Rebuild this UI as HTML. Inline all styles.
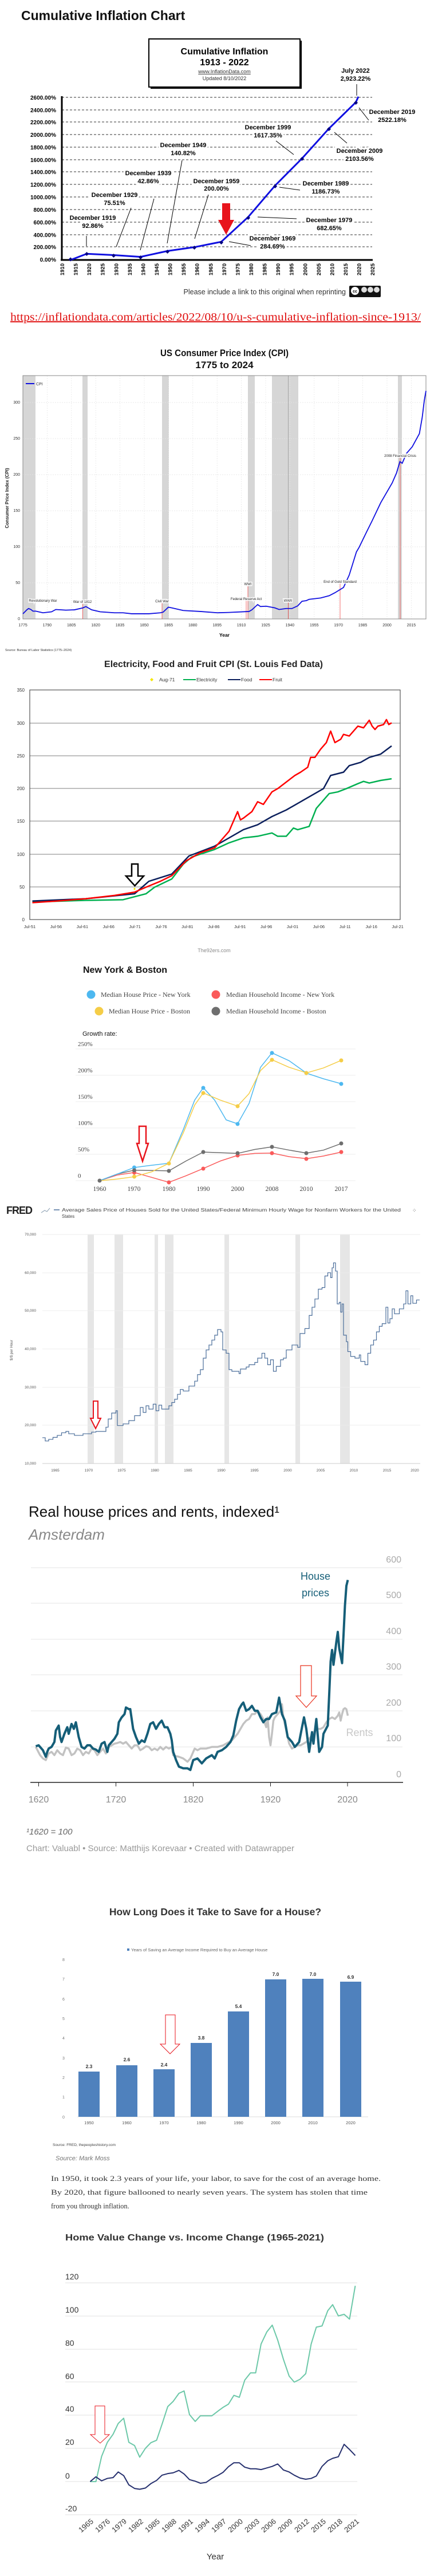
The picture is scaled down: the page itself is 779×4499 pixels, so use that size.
<!DOCTYPE html>
<html><head><meta charset="utf-8">
<style>
html,body{margin:0;padding:0;background:#fff;}
svg{display:block;}
text{font-family:"Liberation Sans",Arial,sans-serif;}
.nss{vector-effect:non-scaling-stroke;fill:none;}
</style></head>
<body>
<svg width="779" height="4499" viewBox="0 0 779 4499" xmlns="http://www.w3.org/2000/svg">
<rect width="779" height="4499" fill="#fff"/>

<!-- ============ CUMULATIVE INFLATION ============ -->
<text x="37" y="35" font-size="23" font-weight="bold" fill="#111">Cumulative Inflation Chart</text>
<rect x="263" y="71" width="264" height="84" fill="#000"/>
<rect x="260" y="68" width="264" height="84" fill="#fff" stroke="#000" stroke-width="2"/>
<text x="392" y="95" font-size="16" font-weight="bold" text-anchor="middle">Cumulative Inflation</text>
<text x="392" y="114" font-size="16" font-weight="bold" text-anchor="middle">1913 - 2022</text>
<text x="392" y="128" font-size="9" text-anchor="middle" fill="#333" text-decoration="underline">www.InflationData.com</text>
<text x="392" y="140" font-size="9" text-anchor="middle" fill="#333">Updated   8/10/2022</text>
<g stroke="#333" stroke-width="1" stroke-dasharray="4,3">
<line x1="108" y1="170" x2="650" y2="170"/><line x1="108" y1="192" x2="650" y2="192"/>
<line x1="108" y1="213" x2="650" y2="213"/><line x1="108" y1="235" x2="650" y2="235"/>
<line x1="108" y1="257" x2="650" y2="257"/><line x1="108" y1="279" x2="650" y2="279"/>
<line x1="108" y1="300" x2="650" y2="300"/><line x1="108" y1="322" x2="650" y2="322"/>
<line x1="108" y1="344" x2="650" y2="344"/><line x1="108" y1="366" x2="650" y2="366"/>
<line x1="108" y1="388" x2="650" y2="388"/><line x1="108" y1="410" x2="650" y2="410"/>
<line x1="108" y1="431" x2="650" y2="431"/>
</g>
<line x1="108" y1="168" x2="108" y2="455" stroke="#000" stroke-width="3"/>
<line x1="106" y1="454" x2="651" y2="454" stroke="#000" stroke-width="3"/>
<g font-size="10" font-weight="bold" text-anchor="end">
<text x="98" y="174">2600.00%</text><text x="98" y="196">2400.00%</text><text x="98" y="217">2200.00%</text>
<text x="98" y="239">2000.00%</text><text x="98" y="261">1800.00%</text><text x="98" y="283">1600.00%</text>
<text x="98" y="304">1400.00%</text><text x="98" y="326">1200.00%</text><text x="98" y="348">1000.00%</text>
<text x="98" y="370">800.00%</text><text x="98" y="392">600.00%</text><text x="98" y="414">400.00%</text>
<text x="98" y="435">200.00%</text><text x="98" y="457">0.00%</text>
</g>
<g font-size="9.5" font-weight="bold" text-anchor="end">
<text transform="translate(112,460) rotate(-90)">1910</text><text transform="translate(135.6,460) rotate(-90)">1915</text>
<text transform="translate(159.1,460) rotate(-90)">1920</text><text transform="translate(182.7,460) rotate(-90)">1925</text>
<text transform="translate(206.3,460) rotate(-90)">1930</text><text transform="translate(229.9,460) rotate(-90)">1935</text>
<text transform="translate(253.4,460) rotate(-90)">1940</text><text transform="translate(277,460) rotate(-90)">1945</text>
<text transform="translate(300.6,460) rotate(-90)">1950</text><text transform="translate(324.1,460) rotate(-90)">1955</text>
<text transform="translate(347.7,460) rotate(-90)">1960</text><text transform="translate(371.3,460) rotate(-90)">1965</text>
<text transform="translate(394.9,460) rotate(-90)">1970</text><text transform="translate(418.4,460) rotate(-90)">1975</text>
<text transform="translate(442,460) rotate(-90)">1980</text><text transform="translate(465.6,460) rotate(-90)">1985</text>
<text transform="translate(489.1,460) rotate(-90)">1990</text><text transform="translate(512.7,460) rotate(-90)">1995</text>
<text transform="translate(536.3,460) rotate(-90)">2000</text><text transform="translate(559.9,460) rotate(-90)">2005</text>
<text transform="translate(583.4,460) rotate(-90)">2010</text><text transform="translate(607,460) rotate(-90)">2015</text>
<text transform="translate(630.6,460) rotate(-90)">2020</text><text transform="translate(654.1,460) rotate(-90)">2025</text>
</g>
<g transform="scale(0.5,0.4464)">
<polyline class="nss" stroke="#1010e0" stroke-width="3" points="247,1017 303,993 397,998 491,1005 585,982 679,967 773,946 867,849 961,726 1055,620 1149,503 1243,400 1252,378"/>
</g>
<g fill="#000080">
<rect x="120" y="451" width="5" height="5" transform="rotate(45 123.5 454)"/>
<rect x="149" y="441" width="5" height="5" transform="rotate(45 151.5 443.5)"/>
<rect x="196" y="444" width="5" height="5" transform="rotate(45 198.5 446.5)"/>
<rect x="243" y="447" width="5" height="5" transform="rotate(45 245.5 449.5)"/>
<rect x="290" y="437" width="5" height="5" transform="rotate(45 292.5 439.5)"/>
<rect x="337" y="430" width="5" height="5" transform="rotate(45 339.5 432.5)"/>
<rect x="384" y="421" width="5" height="5" transform="rotate(45 386.5 423.5)"/>
<rect x="431" y="378" width="5" height="5" transform="rotate(45 433.5 380.5)"/>
<rect x="478" y="323" width="5" height="5" transform="rotate(45 480.5 325.5)"/>
<rect x="525" y="275" width="5" height="5" transform="rotate(45 527.5 277.5)"/>
<rect x="572" y="223" width="5" height="5" transform="rotate(45 574.5 225.5)"/>
<rect x="619" y="177" width="5" height="5" transform="rotate(45 621.5 179.5)"/>
</g>
<g stroke="#000" stroke-width="1">
<line x1="151" y1="412" x2="151" y2="430"/><line x1="229" y1="363" x2="203" y2="431"/>
<line x1="269" y1="347" x2="245" y2="437"/><line x1="318" y1="280" x2="292" y2="425"/>
<line x1="364" y1="340" x2="340" y2="417"/><line x1="438" y1="429" x2="400" y2="422"/>
<line x1="518" y1="382" x2="450" y2="379"/><line x1="524" y1="332" x2="488" y2="327"/>
<line x1="482" y1="246" x2="513" y2="270"/><line x1="606" y1="250" x2="584" y2="231"/>
<line x1="644" y1="210" x2="627" y2="188"/><line x1="623" y1="147" x2="623" y2="167"/>
</g>
<g font-size="11" font-weight="bold" text-anchor="middle" stroke="#fff" stroke-width="7" paint-order="stroke" fill="#000">
<text x="162" y="384">December 1919</text><text x="162" y="398">92.86%</text>
<text x="200" y="344">December 1929</text><text x="200" y="358">75.51%</text>
<text x="259" y="306">December 1939</text><text x="259" y="320">42.86%</text>
<text x="320" y="257">December 1949</text><text x="320" y="271">140.82%</text>
<text x="378" y="320">December 1959</text><text x="378" y="333">200.00%</text>
<text x="476" y="420">December 1969</text><text x="476" y="434">284.69%</text>
<text x="575" y="388">December 1979</text><text x="575" y="402">682.65%</text>
<text x="569" y="324">December 1989</text><text x="569" y="338">1186.73%</text>
<text x="468" y="226">December 1999</text><text x="468" y="240">1617.35%</text>
<text x="628" y="267">December 2009</text><text x="628" y="281">2103.56%</text>
<text x="685" y="199">December 2019</text><text x="685" y="213">2522.18%</text>
<text x="621" y="127">July  2022</text><text x="621" y="141">2,923.22%</text>
</g>
<polygon points="388,355 402,355 402,384 409,384 395,410 381,384 388,384" fill="#e8141c"/>
<text x="604" y="514" font-size="12.5" text-anchor="end" fill="#333">Please include a link to this original when reprinting</text>
<rect x="610" y="499" width="55" height="20" rx="2" fill="#111"/>
<circle cx="620" cy="508" r="7" fill="#fff"/><text x="620" y="511" font-size="7" font-weight="bold" text-anchor="middle">cc</text>
<circle cx="636" cy="506" r="5" fill="#ddd"/><circle cx="647" cy="506" r="5" fill="#ddd"/><circle cx="658" cy="506" r="5" fill="#ddd"/>
<text x="18" y="560" font-size="19.5" fill="#e01010" font-family="Liberation Serif,serif" style="font-family:'Liberation Serif',serif" text-decoration="underline" textLength="717" lengthAdjust="spacingAndGlyphs">https://inflationdata.com/articles/2022/08/10/u-s-cumulative-inflation-since-1913/</text>

<!-- ============ US CPI ============ -->
<text x="392" y="622" font-size="17" font-weight="bold" text-anchor="middle" fill="#111" textLength="224" lengthAdjust="spacingAndGlyphs">US Consumer Price Index (CPI)</text>
<text x="392" y="643" font-size="17" font-weight="bold" text-anchor="middle" fill="#111">1775 to 2024</text>
<g fill="#d6d6d6">
<rect x="40" y="656" width="22" height="425"/><rect x="144" y="656" width="9" height="425"/>
<rect x="283" y="656" width="12" height="425"/><rect x="433" y="656" width="12" height="425"/>
<rect x="475" y="656" width="46" height="425"/><rect x="695" y="656" width="7" height="425"/>
</g>
<g stroke="#e4e4e4" stroke-width="0.7" stroke-dasharray="2,2">
<line x1="40" y1="703" x2="744" y2="703"/><line x1="40" y1="766" x2="744" y2="766"/>
<line x1="40" y1="829" x2="744" y2="829"/><line x1="40" y1="892" x2="744" y2="892"/>
<line x1="40" y1="955" x2="744" y2="955"/><line x1="40" y1="1018" x2="744" y2="1018"/>
<line x1="82.4" y1="656" x2="82.4" y2="1081"/><line x1="124.8" y1="656" x2="124.8" y2="1081"/>
<line x1="167.2" y1="656" x2="167.2" y2="1081"/><line x1="209.6" y1="656" x2="209.6" y2="1081"/>
<line x1="252" y1="656" x2="252" y2="1081"/><line x1="294.4" y1="656" x2="294.4" y2="1081"/>
<line x1="336.8" y1="656" x2="336.8" y2="1081"/><line x1="379.2" y1="656" x2="379.2" y2="1081"/>
<line x1="421.6" y1="656" x2="421.6" y2="1081"/><line x1="464" y1="656" x2="464" y2="1081"/>
<line x1="506.4" y1="656" x2="506.4" y2="1081"/><line x1="548.8" y1="656" x2="548.8" y2="1081"/>
<line x1="591.2" y1="656" x2="591.2" y2="1081"/><line x1="633.6" y1="656" x2="633.6" y2="1081"/>
<line x1="676" y1="656" x2="676" y2="1081"/><line x1="718.4" y1="656" x2="718.4" y2="1081"/>
</g>
<line x1="503.5" y1="656" x2="503.5" y2="1081" stroke="#999" stroke-width="0.8"/>
<rect x="40" y="656" width="704" height="425" fill="none" stroke="#888" stroke-width="1"/>
<line x1="45" y1="670" x2="60" y2="670" stroke="#1010e0" stroke-width="2"/>
<text x="63" y="673" font-size="7" fill="#333">CPI</text>
<g stroke="#e33" stroke-width="0.7">
<line x1="144.5" y1="1054" x2="144.5" y2="1081"/><line x1="283" y1="1053" x2="283" y2="1081"/>
<line x1="430" y1="1049" x2="430" y2="1081"/><line x1="433" y1="1024" x2="433" y2="1081"/>
<line x1="503.5" y1="1052" x2="503.5" y2="1081"/><line x1="594" y1="1019" x2="594" y2="1081"/>
<line x1="699" y1="799" x2="699" y2="1081"/>
</g>
<g transform="translate(0,700) scale(0.5,0.574)">
<polyline class="nss" stroke="#1010e0" stroke-width="1.8" points="80,648 95,635 100,632 108,635 115,640 125,640 150,645 180,642 195,635 230,637 260,636 290,630 300,626 320,636 350,642 400,645 430,645 460,648 520,648 560,645 570,643 588,628 600,630 640,638 700,641 760,645 800,644 870,641 880,636 900,620 910,626 930,625 960,630 975,635 1000,632 1020,632 1040,624 1055,610 1070,608 1080,604 1120,600 1150,593 1170,584 1200,568 1220,530 1245,460 1255,445 1280,400 1300,365 1330,310 1350,280 1370,250 1385,220 1397,185 1405,190 1420,160 1440,140 1465,100 1475,50 1482,0 1488,-30"/>
</g>
<g font-size="6" text-anchor="middle" fill="#222" stroke="#fff" stroke-width="3" paint-order="stroke">
<text x="75" y="1051">Revolutionary War</text><text x="144" y="1053">War of 1812</text>
<text x="283" y="1052">Civil War</text><text x="430" y="1048">Federal Reserve Act</text>
<text x="433" y="1022">WWI</text><text x="503" y="1051">WWII</text>
<text x="594" y="1018">End of Gold Standard</text><text x="699" y="798">2008 Financial Crisis</text>
</g>
<g font-size="7" text-anchor="end" fill="#333">
<text x="35" y="705">300</text><text x="35" y="768">250</text><text x="35" y="831">200</text>
<text x="35" y="894">150</text><text x="35" y="957">100</text><text x="35" y="1020">50</text><text x="35" y="1083">0</text>
</g>
<g font-size="7" text-anchor="middle" fill="#333">
<text x="40" y="1094">1775</text><text x="82.4" y="1094">1790</text><text x="124.8" y="1094">1805</text>
<text x="167.2" y="1094">1820</text><text x="209.6" y="1094">1835</text><text x="252" y="1094">1850</text>
<text x="294.4" y="1094">1865</text><text x="336.8" y="1094">1880</text><text x="379.2" y="1094">1895</text>
<text x="421.6" y="1094">1910</text><text x="464" y="1094">1925</text><text x="506.4" y="1094">1940</text>
<text x="548.8" y="1094">1955</text><text x="591.2" y="1094">1970</text><text x="633.6" y="1094">1985</text>
<text x="676" y="1094">2000</text><text x="718.4" y="1094">2015</text>
</g>
<text x="392" y="1112" font-size="8.5" font-weight="bold" text-anchor="middle">Year</text>
<text transform="translate(15,870) rotate(-90)" font-size="8" font-weight="bold" text-anchor="middle" fill="#222">Consumer Price Index (CPI)</text>
<text x="9" y="1137" font-size="5.5" fill="#333">Source: Bureau of Labor Statistics (1775–2024)</text>

<!-- ============ ELECTRICITY FOOD FRUIT ============ -->
<text x="373" y="1165" font-size="16" font-weight="bold" text-anchor="middle" fill="#222">Electricity, Food and Fruit CPI (St. Louis Fed Data)</text>
<polygon points="265,1184 268,1187 265,1190 262,1187" fill="#f5e700"/>
<text x="278" y="1190" font-size="8.5" fill="#333">Aug-71</text>
<line x1="320" y1="1187" x2="342" y2="1187" stroke="#00b050" stroke-width="2"/><text x="343" y="1190" font-size="8.5" fill="#333">Electricity</text>
<line x1="398" y1="1187" x2="420" y2="1187" stroke="#0b1f5c" stroke-width="2"/><text x="421" y="1190" font-size="8.5" fill="#333">Food</text>
<line x1="453" y1="1187" x2="475" y2="1187" stroke="#ff0000" stroke-width="2"/><text x="476" y="1190" font-size="8.5" fill="#333">Fruit</text>
<g stroke="#999" stroke-width="1.2">
<line x1="52" y1="1263" x2="699" y2="1263"/><line x1="52" y1="1320" x2="699" y2="1320"/>
<line x1="52" y1="1377" x2="699" y2="1377"/><line x1="52" y1="1434" x2="699" y2="1434"/>
<line x1="52" y1="1492" x2="699" y2="1492"/><line x1="52" y1="1549" x2="699" y2="1549"/>
</g>
<rect x="52" y="1205" width="647" height="401" fill="none" stroke="#333" stroke-width="1"/>
<g font-size="8" text-anchor="end" fill="#333">
<text x="43" y="1208">350</text><text x="43" y="1266">300</text><text x="43" y="1323">250</text><text x="43" y="1380">200</text>
<text x="43" y="1437">150</text><text x="43" y="1495">100</text><text x="43" y="1552">50</text><text x="43" y="1609">0</text>
</g>
<g font-size="7.5" text-anchor="middle" fill="#333">
<text x="52" y="1621">Jul-51</text><text x="97.9" y="1621">Jul-56</text><text x="143.8" y="1621">Jul-61</text>
<text x="189.7" y="1621">Jul-66</text><text x="235.6" y="1621">Jul-71</text><text x="281.5" y="1621">Jul-76</text>
<text x="327.4" y="1621">Jul-81</text><text x="373.3" y="1621">Jul-86</text><text x="419.2" y="1621">Jul-91</text>
<text x="465.1" y="1621">Jul-96</text><text x="511" y="1621">Jul-01</text><text x="556.9" y="1621">Jul-06</text>
<text x="602.8" y="1621">Jul-11</text><text x="648.7" y="1621">Jul-16</text><text x="694.6" y="1621">Jul-21</text>
</g>
<g transform="translate(0,700) scale(0.5,0.574)">
<polyline class="nss" stroke="#00b050" stroke-width="2.5" stroke-linejoin="round" points="113,1525 300,1520 430,1518 510,1500 540,1480 600,1455 640,1410 670,1388 750,1365 800,1345 850,1330 900,1325 950,1315 970,1325 1000,1325 1025,1300 1040,1305 1080,1295 1105,1240 1150,1195 1180,1190 1210,1180 1250,1165 1270,1158 1290,1163 1330,1155 1368,1150"/>
<polyline class="nss" stroke="#0b1f5c" stroke-width="2.5" stroke-linejoin="round" points="113,1522 300,1515 470,1500 520,1462 600,1440 660,1385 750,1355 800,1330 850,1305 900,1290 950,1265 1000,1245 1050,1220 1100,1195 1130,1180 1155,1140 1200,1130 1220,1110 1260,1100 1290,1085 1330,1075 1368,1050"/>
<polyline class="nss" stroke="#ff0000" stroke-width="2.5" stroke-linejoin="round" points="113,1527 200,1522 300,1515 400,1505 470,1495 510,1480 560,1462 600,1445 650,1400 700,1375 750,1360 800,1310 815,1280 830,1250 840,1275 850,1270 880,1250 900,1220 920,1228 950,1190 970,1180 1000,1160 1030,1140 1050,1130 1075,1115 1085,1085 1100,1085 1120,1060 1140,1040 1155,1005 1170,1040 1190,1030 1200,1015 1220,1020 1250,990 1270,995 1290,972 1300,990 1310,1000 1320,990 1340,985 1350,970 1358,985 1368,980"/>
</g>
<polygon points="470,1481 474,1485 470,1489 466,1485" fill="#f5e700" transform="translate(0,700) scale(0.5,0.574)"/>
<polygon points="230,1509 241,1509 241,1530 251,1530 235.5,1547 220,1530 230,1530" fill="#fff" stroke="#000" stroke-width="2.5"/>
<text x="374" y="1663" font-size="9" text-anchor="middle" fill="#888">The92ers.com</text>

<!-- ============ NEW YORK & BOSTON ============ -->
<text x="145" y="1699" font-size="16" font-weight="bold" fill="#111">New York &amp; Boston</text>
<g font-size="12" fill="#444" style="font-family:'Liberation Serif',serif">
<circle cx="159" cy="1737" r="7.5" fill="#4db8f0"/><text x="176" y="1741" style="font-family:'Liberation Serif',serif">Median House Price - New York</text>
<circle cx="377" cy="1737" r="7.5" fill="#fa5a5a"/><text x="395" y="1741" style="font-family:'Liberation Serif',serif">Median Household Income - New York</text>
<circle cx="173" cy="1766" r="7.5" fill="#f5cd47"/><text x="190" y="1770" style="font-family:'Liberation Serif',serif">Median House Price - Boston</text>
<circle cx="377" cy="1766" r="7.5" fill="#6e6e6e"/><text x="395" y="1770" style="font-family:'Liberation Serif',serif">Median Household Income - Boston</text>
</g>
<text x="144" y="1809" font-size="11" fill="#111">Growth rate:</text>
<g stroke="#eee" stroke-width="1">
<line x1="132" y1="1832" x2="621" y2="1832"/><line x1="132" y1="1878" x2="621" y2="1878"/>
<line x1="132" y1="1924" x2="621" y2="1924"/><line x1="132" y1="1970" x2="621" y2="1970"/>
<line x1="132" y1="2016" x2="621" y2="2016"/><line x1="132" y1="2062" x2="621" y2="2062"/>
</g>
<g font-size="11" fill="#444" style="font-family:'Liberation Serif',serif">
<text x="136" y="1827" style="font-family:'Liberation Serif',serif">250%</text><text x="136" y="1873" style="font-family:'Liberation Serif',serif">200%</text>
<text x="136" y="1919" style="font-family:'Liberation Serif',serif">150%</text><text x="136" y="1965" style="font-family:'Liberation Serif',serif">100%</text>
<text x="136" y="2011" style="font-family:'Liberation Serif',serif">50%</text><text x="136" y="2057" style="font-family:'Liberation Serif',serif">0</text>
</g>
<g font-size="11.5" fill="#444" text-anchor="middle">
<text x="174" y="2080" style="font-family:'Liberation Serif',serif">1960</text><text x="234" y="2080" style="font-family:'Liberation Serif',serif">1970</text>
<text x="295" y="2080" style="font-family:'Liberation Serif',serif">1980</text><text x="355" y="2080" style="font-family:'Liberation Serif',serif">1990</text>
<text x="415" y="2080" style="font-family:'Liberation Serif',serif">2000</text><text x="475" y="2080" style="font-family:'Liberation Serif',serif">2008</text>
<text x="535" y="2080" style="font-family:'Liberation Serif',serif">2010</text><text x="596" y="2080" style="font-family:'Liberation Serif',serif">2017</text>
</g>
<g transform="translate(0,1600) scale(0.5,0.574)">
<polyline class="nss" stroke="#fa5a5a" stroke-width="1.5" stroke-linejoin="round" points="348,805 409,788 469,780 530,795 590,810 650,790 710,768 770,745 830,728 890,722 950,721 1010,732 1071,738 1130,730 1192,718"/>
<polyline class="nss" stroke="#6e6e6e" stroke-width="1.5" stroke-linejoin="round" points="348,805 409,785 469,773 530,774 590,775 650,745 710,718 770,720 830,722 890,710 950,702 1010,712 1071,721 1130,712 1192,692"/>
<polyline class="nss" stroke="#4db8f0" stroke-width="1.5" stroke-linejoin="round" points="348,805 409,785 469,765 530,758 590,752 640,650 680,560 710,522 750,560 790,620 830,632 870,570 910,460 950,416 1010,440 1071,478 1130,495 1192,510"/>
<polyline class="nss" stroke="#f5cd47" stroke-width="1.5" stroke-linejoin="round" points="348,805 409,800 469,793 530,778 590,752 640,660 680,575 710,538 770,560 830,578 870,540 910,470 950,437 1010,460 1071,477 1130,462 1192,439"/>
</g>
<g>
<circle cx="174" cy="2062" r="3.5" fill="#6e6e6e"/>
<circle cx="234.5" cy="2039" r="3.5" fill="#4db8f0"/><circle cx="234.5" cy="2055" r="3.5" fill="#f5cd47"/><circle cx="234.5" cy="2048" r="3.5" fill="#fa5a5a"/><circle cx="234.5" cy="2044" r="3.5" fill="#6e6e6e"/>
<circle cx="295" cy="2032" r="3.5" fill="#f5cd47"/><circle cx="295" cy="2065" r="3.5" fill="#fa5a5a"/><circle cx="295" cy="2045" r="3.5" fill="#6e6e6e"/>
<circle cx="355" cy="1900" r="3.5" fill="#4db8f0"/><circle cx="355" cy="1909" r="3.5" fill="#f5cd47"/><circle cx="355" cy="2041" r="3.5" fill="#fa5a5a"/><circle cx="355" cy="2012" r="3.5" fill="#6e6e6e"/>
<circle cx="415" cy="1963" r="3.5" fill="#4db8f0"/><circle cx="415" cy="1932" r="3.5" fill="#f5cd47"/><circle cx="415" cy="2018" r="3.5" fill="#fa5a5a"/><circle cx="415" cy="2014" r="3.5" fill="#6e6e6e"/>
<circle cx="475" cy="1839" r="3.5" fill="#4db8f0"/><circle cx="475" cy="1851" r="3.5" fill="#f5cd47"/><circle cx="475" cy="2014" r="3.5" fill="#fa5a5a"/><circle cx="475" cy="2003" r="3.5" fill="#6e6e6e"/>
<circle cx="535" cy="1874" r="3.5" fill="#4db8f0"/><circle cx="535" cy="1874" r="3.5" fill="#f5cd47"/><circle cx="535" cy="2024" r="3.5" fill="#fa5a5a"/><circle cx="535" cy="2014" r="3.5" fill="#6e6e6e"/>
<circle cx="596" cy="1893" r="3.5" fill="#4db8f0"/><circle cx="596" cy="1852" r="3.5" fill="#f5cd47"/><circle cx="596" cy="2012" r="3.5" fill="#fa5a5a"/><circle cx="596" cy="1997" r="3.5" fill="#6e6e6e"/>
</g>
<polygon points="243,1967 255,1967 255,1997 259,1997 249,2028 239,1997 243,1997" fill="#fff" stroke="#e8141c" stroke-width="2.5"/>

<!-- ============ FRED ============ -->
<text x="11" y="2120" font-size="18" font-weight="bold" fill="#222" letter-spacing="-1">FRED</text>
<polyline points="72,2118 78,2114 82,2116 87,2110" fill="none" stroke="#9ab" stroke-width="1.2"/>
<line x1="94" y1="2113" x2="104" y2="2113" stroke="#4a6d9a" stroke-width="1.5"/>
<text x="108" y="2116" font-size="7.8" fill="#444" textLength="592" lengthAdjust="spacingAndGlyphs">Average Sales Price of Houses Sold for the United States/Federal Minimum Hourly Wage for Nonfarm Workers for the United</text>
<text x="108" y="2127" font-size="7.8" fill="#444">States</text>
<text x="720" y="2117" font-size="9" fill="#444">⁘</text>
<g fill="#e6e6e6">
<rect x="153" y="2156" width="11" height="400"/><rect x="200" y="2156" width="15" height="400"/>
<rect x="270" y="2156" width="6" height="400"/><rect x="288" y="2156" width="15" height="400"/>
<rect x="392" y="2156" width="8" height="400"/><rect x="516" y="2156" width="8" height="400"/>
<rect x="594" y="2156" width="17" height="400"/>
</g>
<g stroke="#ececec" stroke-width="1">
<line x1="74" y1="2156" x2="734" y2="2156"/><line x1="74" y1="2223" x2="734" y2="2223"/>
<line x1="74" y1="2289" x2="734" y2="2289"/><line x1="74" y1="2356" x2="734" y2="2356"/>
<line x1="74" y1="2423" x2="734" y2="2423"/><line x1="74" y1="2489" x2="734" y2="2489"/>
</g>
<line x1="74" y1="2556" x2="734" y2="2556" stroke="#ccc" stroke-width="1"/>
<g font-size="6.5" fill="#555" text-anchor="end">
<text x="63" y="2158">70,000</text><text x="63" y="2225">60,000</text><text x="63" y="2291">50,000</text>
<text x="63" y="2358">40,000</text><text x="63" y="2425">30,000</text><text x="63" y="2491">20,000</text><text x="63" y="2558">10,000</text>
</g>
<text transform="translate(22,2358) rotate(-90)" font-size="6.5" fill="#555" text-anchor="middle">$/$ per Hour</text>
<g font-size="6.5" fill="#555" text-anchor="middle">
<text x="96.5" y="2561" dy="9">1965</text><text x="155" y="2570">1970</text><text x="212.5" y="2570">1975</text>
<text x="270.5" y="2570">1980</text><text x="328.5" y="2570">1985</text><text x="386.5" y="2570">1990</text>
<text x="444.5" y="2570">1995</text><text x="502.5" y="2570">2000</text><text x="560" y="2570">2005</text>
<text x="618" y="2570">2010</text><text x="676" y="2570">2015</text><text x="724.5" y="2570">2020</text>
</g>
<g transform="translate(0,1600) scale(0.5,0.574)">
<polyline class="nss" stroke="#4a6d9a" stroke-width="1.2" points="148,1587 158,1587 158,1597 170,1597 170,1592 185,1592 185,1586 200,1586 200,1580 215,1580 215,1572 230,1572 230,1568 240,1568 240,1575 260,1575 260,1580 290,1580 290,1575 320,1575 320,1570 335,1570 335,1568 370,1568 370,1555 378,1555 378,1530 390,1530 390,1512 405,1512 405,1505 410,1505 410,1550 430,1550 430,1545 450,1545 450,1535 470,1535 470,1520 490,1520 490,1495 500,1495 500,1510 510,1510 510,1490 520,1490 520,1500 535,1500 535,1485 545,1485 545,1505 555,1505 555,1488 565,1488 565,1500 590,1500 590,1490 600,1490 600,1480 610,1480 610,1470 620,1470 620,1455 630,1455 630,1440 640,1440 640,1445 660,1445 660,1430 680,1430 680,1415 690,1415 690,1395 700,1395 700,1380 710,1380 710,1345 720,1345 720,1320 730,1320 730,1305 740,1305 740,1290 750,1290 750,1275 760,1275 760,1258 772,1258 772,1265 778,1265 778,1320 790,1320 790,1330 800,1330 800,1380 810,1380 810,1385 835,1385 835,1392 840,1392 840,1378 860,1378 860,1372 870,1372 870,1365 890,1365 890,1358 900,1358 900,1345 915,1345 915,1330 925,1330 925,1345 935,1345 935,1365 945,1365 945,1350 955,1350 955,1385 965,1385 965,1370 980,1370 980,1350 990,1350 990,1345 1000,1345 1000,1320 1020,1320 1020,1305 1040,1305 1040,1312 1048,1312 1048,1270 1065,1270 1065,1255 1080,1255 1080,1215 1090,1215 1090,1190 1100,1190 1100,1165 1112,1165 1112,1135 1125,1135 1125,1130 1135,1130 1135,1095 1145,1095 1145,1085 1155,1085 1155,1100 1160,1100 1160,1070 1165,1070 1165,1055 1172,1055 1172,1080 1178,1080 1178,1180 1185,1180 1185,1175 1190,1175 1190,1205 1195,1205 1195,1180 1200,1180 1200,1275 1210,1275 1210,1295 1215,1295 1215,1325 1225,1325 1225,1340 1240,1340 1240,1345 1255,1345 1255,1335 1260,1335 1260,1355 1275,1355 1275,1365 1285,1365 1285,1330 1295,1330 1295,1305 1305,1305 1305,1290 1315,1290 1315,1265 1325,1265 1325,1248 1335,1248 1335,1240 1348,1240 1348,1190 1355,1190 1355,1238 1362,1238 1362,1225 1370,1225 1370,1195 1378,1195 1378,1210 1395,1210 1395,1195 1410,1195 1410,1180 1418,1180 1418,1140 1425,1140 1425,1180 1435,1180 1435,1155 1442,1155 1442,1178 1455,1178 1455,1168 1466,1168"/>
</g>
<polygon points="163,2447 171,2447 171,2477 176,2477 167,2495 158,2477 163,2477" fill="#fff" stroke="#e8141c" stroke-width="2"/>

<!-- ============ AMSTERDAM ============ -->
<text x="50" y="2649" font-size="26" fill="#111">Real house prices and rents, indexed¹</text>
<text x="50" y="2689" font-size="26" font-style="italic" fill="#888">Amsterdam</text>
<g stroke="#e4e4e4" stroke-width="1">
<line x1="54" y1="2738" x2="703" y2="2738"/><line x1="54" y1="2800" x2="703" y2="2800"/>
<line x1="54" y1="2863" x2="703" y2="2863"/><line x1="54" y1="2925" x2="703" y2="2925"/>
<line x1="54" y1="2988" x2="703" y2="2988"/><line x1="54" y1="3051" x2="703" y2="3051"/>
</g>
<g font-size="16" fill="#aaa" text-anchor="end">
<text x="701" y="2729">600</text><text x="701" y="2791">500</text><text x="701" y="2854">400</text>
<text x="701" y="2916">300</text><text x="701" y="2979">200</text><text x="701" y="3041">100</text><text x="701" y="3104">0</text>
</g>
<g transform="translate(0,2500) scale(0.5,0.574)">
<polyline class="nss" stroke="#c2c2c2" stroke-width="3.5" stroke-linejoin="round" points="125,960 140,985 150,995 160,1000 170,980 180,975 190,985 200,970 210,980 220,985 230,962 240,965 250,985 260,980 270,965 280,970 290,985 300,975 310,980 320,965 330,970 340,985 350,975 360,965 370,980 380,960 390,955 400,950 410,948 420,945 430,950 440,945 450,955 460,965 470,955 480,955 490,970 500,965 510,958 520,960 530,970 540,965 550,970 560,960 570,968 580,960 590,965 600,960 605,985 615,988 625,990 640,995 655,1005 665,995 670,985 680,965 690,970 700,965 720,965 740,960 760,960 780,955 800,945 810,940 820,930 830,920 840,905 850,890 860,880 870,875 880,860 890,860 900,850 910,860 920,875 930,900 935,870 940,930 945,955 950,920 955,880 960,870 970,860 980,850 985,830 990,870 1000,910 1010,950 1020,965 1030,960 1040,955 1050,955 1060,950 1070,945 1080,935 1090,925 1100,910 1110,905 1120,905 1130,900 1140,885 1150,875 1160,870 1170,875 1180,865 1185,855 1190,880 1195,860 1200,845 1205,842 1210,845 1215,865"/>
<polyline class="nss" stroke="#155e78" stroke-width="4" stroke-linejoin="round" points="125,958 135,955 140,960 150,970 160,990 165,975 170,965 180,960 190,945 195,910 205,895 210,930 215,945 225,920 235,900 240,920 250,890 258,905 265,885 275,930 285,960 295,965 305,955 315,955 325,965 335,968 345,975 355,950 365,945 375,975 380,955 390,945 400,935 410,920 415,885 425,870 435,860 440,840 450,845 455,845 465,905 475,930 485,950 495,940 505,945 515,920 525,890 535,885 545,905 555,890 565,880 575,900 585,900 595,920 600,940 605,975 615,1000 625,1020 640,1025 655,1025 665,1030 675,1000 690,995 705,1010 720,995 740,985 750,995 760,975 775,970 790,960 805,945 815,925 825,880 835,845 845,830 850,825 860,850 870,845 880,835 890,850 900,850 910,870 920,885 930,875 940,875 950,860 965,855 975,810 985,860 995,880 1005,930 1020,945 1030,960 1045,945 1055,900 1062,870 1070,905 1080,975 1090,915 1095,950 1105,875 1115,975 1125,960 1130,920 1145,895 1150,800 1155,700 1160,665 1165,710 1175,640 1180,610 1185,660 1195,705 1200,620 1205,530 1210,470 1215,452"/>
</g>
<line x1="53" y1="3113" x2="704" y2="3113" stroke="#222" stroke-width="1.5"/>
<g stroke="#222" stroke-width="1"><line x1="67.5" y1="3113" x2="67.5" y2="3120"/><line x1="202.5" y1="3113" x2="202.5" y2="3120"/><line x1="337.5" y1="3113" x2="337.5" y2="3120"/><line x1="472.5" y1="3113" x2="472.5" y2="3120"/><line x1="607" y1="3113" x2="607" y2="3120"/></g>
<g font-size="16" fill="#888" text-anchor="middle">
<text x="67.5" y="3148">1620</text><text x="202.5" y="3148">1720</text><text x="337.5" y="3148">1820</text><text x="472.5" y="3148">1920</text><text x="607" y="3148">2020</text>
</g>
<text x="551" y="2759" font-size="18" fill="#155e78" text-anchor="middle">House</text>
<text x="551" y="2788" font-size="18" fill="#155e78" text-anchor="middle">prices</text>
<text x="628" y="3032" font-size="18" fill="#c8c8c8" text-anchor="middle">Rents</text>
<polygon points="525,2909 544,2909 544,2962 553,2962 535,2982 517,2962 525,2962" fill="#fff" stroke="#e8301c" stroke-width="1.2"/>
<text x="46" y="3204" font-size="15" font-style="italic" fill="#666">¹1620 = 100</text>
<text x="46" y="3233" font-size="15" fill="#999">Chart: Valuabl • Source: Matthijs Korevaar • Created with Datawrapper</text>

<!-- ============ SAVE FOR A HOUSE ============ -->
<text x="376" y="3345" font-size="17.5" font-weight="bold" text-anchor="middle" fill="#333">How Long Does it Take to Save for a House?</text>
<rect x="222" y="3403" width="4" height="4" fill="#4f81bd"/>
<text x="229" y="3408" font-size="7.5" fill="#666">Years of Saving an Average Income Required to Buy an Average House</text>
<g font-size="7" fill="#777" text-anchor="middle">
<text x="111" y="3425">8</text><text x="111" y="3459">7</text><text x="111" y="3494">6</text><text x="111" y="3528">5</text>
<text x="111" y="3562">4</text><text x="111" y="3597">3</text><text x="111" y="3631">2</text><text x="111" y="3665">1</text><text x="111" y="3700">0</text>
</g>
<line x1="135" y1="3697" x2="643" y2="3697" stroke="#ddd" stroke-width="1"/>
<g fill="#4f81bd">
<rect x="137" y="3618" width="37" height="79"/><rect x="203" y="3607" width="37" height="90"/>
<rect x="268" y="3614" width="37" height="83"/><rect x="333" y="3568" width="37" height="129"/>
<rect x="398" y="3513" width="37" height="184"/><rect x="463" y="3457" width="37" height="240"/>
<rect x="528" y="3456" width="37" height="241"/><rect x="594" y="3461" width="37" height="236"/>
</g>
<g font-size="8.5" font-weight="bold" fill="#333" text-anchor="middle">
<text x="155.5" y="3612">2.3</text><text x="221.5" y="3600">2.6</text><text x="286.5" y="3609">2.4</text>
<text x="351.5" y="3562">3.8</text><text x="416.5" y="3507">5.4</text><text x="481.5" y="3451">7.0</text>
<text x="546.5" y="3451">7.0</text><text x="612.5" y="3456">6.9</text>
</g>
<g font-size="7.5" fill="#555" text-anchor="middle">
<text x="155.5" y="3710">1950</text><text x="221.5" y="3710">1960</text><text x="286.5" y="3710">1970</text>
<text x="351.5" y="3710">1980</text><text x="416.5" y="3710">1990</text><text x="481.5" y="3710">2000</text>
<text x="546.5" y="3710">2010</text><text x="612.5" y="3710">2020</text>
</g>
<polygon points="289,3519 306,3519 306,3570 314,3570 297,3587 280,3570 289,3570" fill="#fff" stroke="#e8141c" stroke-width="1"/>
<text x="92" y="3748" font-size="6.5" fill="#444">Source: FRED, thepeopleshistory.com</text>
<text x="97" y="3773" font-size="11" font-style="italic" fill="#777">Source: Mark Moss</text>
<g font-size="12.5" fill="#333">
<text x="89" y="3809" style="font-family:'Liberation Serif',serif" textLength="576" lengthAdjust="spacingAndGlyphs">In 1950, it took 2.3 years of your life, your labor, to save for the cost of an average home.</text>
<text x="89" y="3833" style="font-family:'Liberation Serif',serif" textLength="553" lengthAdjust="spacingAndGlyphs">By 2020, that figure ballooned to nearly seven years. The system has stolen that time</text>
<text x="89" y="3857" style="font-family:'Liberation Serif',serif">from you through inflation.</text>
</g>

<!-- ============ HOME VALUE VS INCOME ============ -->
<text x="114" y="3913" font-size="16" font-weight="bold" fill="#333" textLength="452" lengthAdjust="spacingAndGlyphs">Home Value Change vs. Income Change (1965-2021)</text>
<g stroke="#e2e2e2" stroke-width="1">
<line x1="114" y1="3987" x2="624" y2="3987"/><line x1="114" y1="4045" x2="624" y2="4045"/>
<line x1="114" y1="4103" x2="624" y2="4103"/><line x1="114" y1="4160" x2="624" y2="4160"/>
<line x1="114" y1="4218" x2="624" y2="4218"/><line x1="114" y1="4276" x2="624" y2="4276"/>
<line x1="114" y1="4334" x2="624" y2="4334"/><line x1="114" y1="4392" x2="624" y2="4392"/>
</g>
<g font-size="14" fill="#333">
<text x="114" y="3981">120</text><text x="114" y="4039">100</text><text x="114" y="4097">80</text><text x="114" y="4155">60</text>
<text x="114" y="4212">40</text><text x="114" y="4270">20</text><text x="114" y="4329">0</text><text x="114" y="4386">-20</text>
</g>
<g transform="translate(0,3400) scale(0.5,0.7008)">
<polyline class="nss" stroke="#6cc8a8" stroke-width="2" stroke-linejoin="round" points="315,1333 335,1333 355,1270 375,1235 395,1215 413,1188 432,1175 450,1235 470,1243 488,1272 508,1250 527,1236 547,1230 566,1190 586,1146 605,1133 625,1113 643,1107 662,1166 682,1183 700,1169 740,1169 760,1158 779,1148 798,1140 817,1118 836,1123 855,1080 875,1062 893,1062 912,990 932,960 951,943 970,980 990,1028 1010,1070 1028,1085 1048,1078 1068,1064 1087,990 1105,948 1125,945 1145,907 1162,892 1182,920 1202,916 1221,928 1241,845"/>
<polyline class="nss" stroke="#26306e" stroke-width="2" stroke-linejoin="round" points="315,1333 335,1321 355,1331 375,1325 395,1323 413,1309 432,1318 450,1341 470,1350 488,1352 508,1349 527,1338 547,1330 566,1317 586,1313 605,1311 625,1305 643,1314 662,1328 682,1332 700,1337 720,1335 740,1325 760,1318 779,1310 798,1296 817,1286 836,1286 855,1297 875,1301 893,1301 912,1303 932,1299 951,1295 970,1289 990,1304 1010,1309 1028,1317 1048,1324 1068,1327 1087,1325 1105,1319 1125,1295 1145,1281 1162,1275 1182,1271 1202,1240 1221,1253 1241,1268"/>
</g>
<polygon points="166,4202 183,4202 183,4252 191,4252 175,4267 158,4252 166,4252" fill="#fff" stroke="#e8141c" stroke-width="1"/>
<g font-size="13" fill="#333" text-anchor="end">
<text transform="translate(164,4405) rotate(-40)">1965</text><text transform="translate(193,4405) rotate(-40)">1976</text>
<text transform="translate(222,4405) rotate(-40)">1979</text><text transform="translate(251,4405) rotate(-40)">1982</text>
<text transform="translate(280,4405) rotate(-40)">1985</text><text transform="translate(309,4405) rotate(-40)">1988</text>
<text transform="translate(338,4405) rotate(-40)">1991</text><text transform="translate(367,4405) rotate(-40)">1994</text>
<text transform="translate(396,4405) rotate(-40)">1997</text><text transform="translate(425,4405) rotate(-40)">2000</text>
<text transform="translate(454,4405) rotate(-40)">2003</text><text transform="translate(483,4405) rotate(-40)">2006</text>
<text transform="translate(512,4405) rotate(-40)">2009</text><text transform="translate(541,4405) rotate(-40)">2012</text>
<text transform="translate(570,4405) rotate(-40)">2015</text><text transform="translate(599,4405) rotate(-40)">2018</text>
<text transform="translate(628,4405) rotate(-40)">2021</text>
</g>
<text x="376" y="4470" font-size="15" fill="#333" text-anchor="middle">Year</text>
</svg>
</body></html>
